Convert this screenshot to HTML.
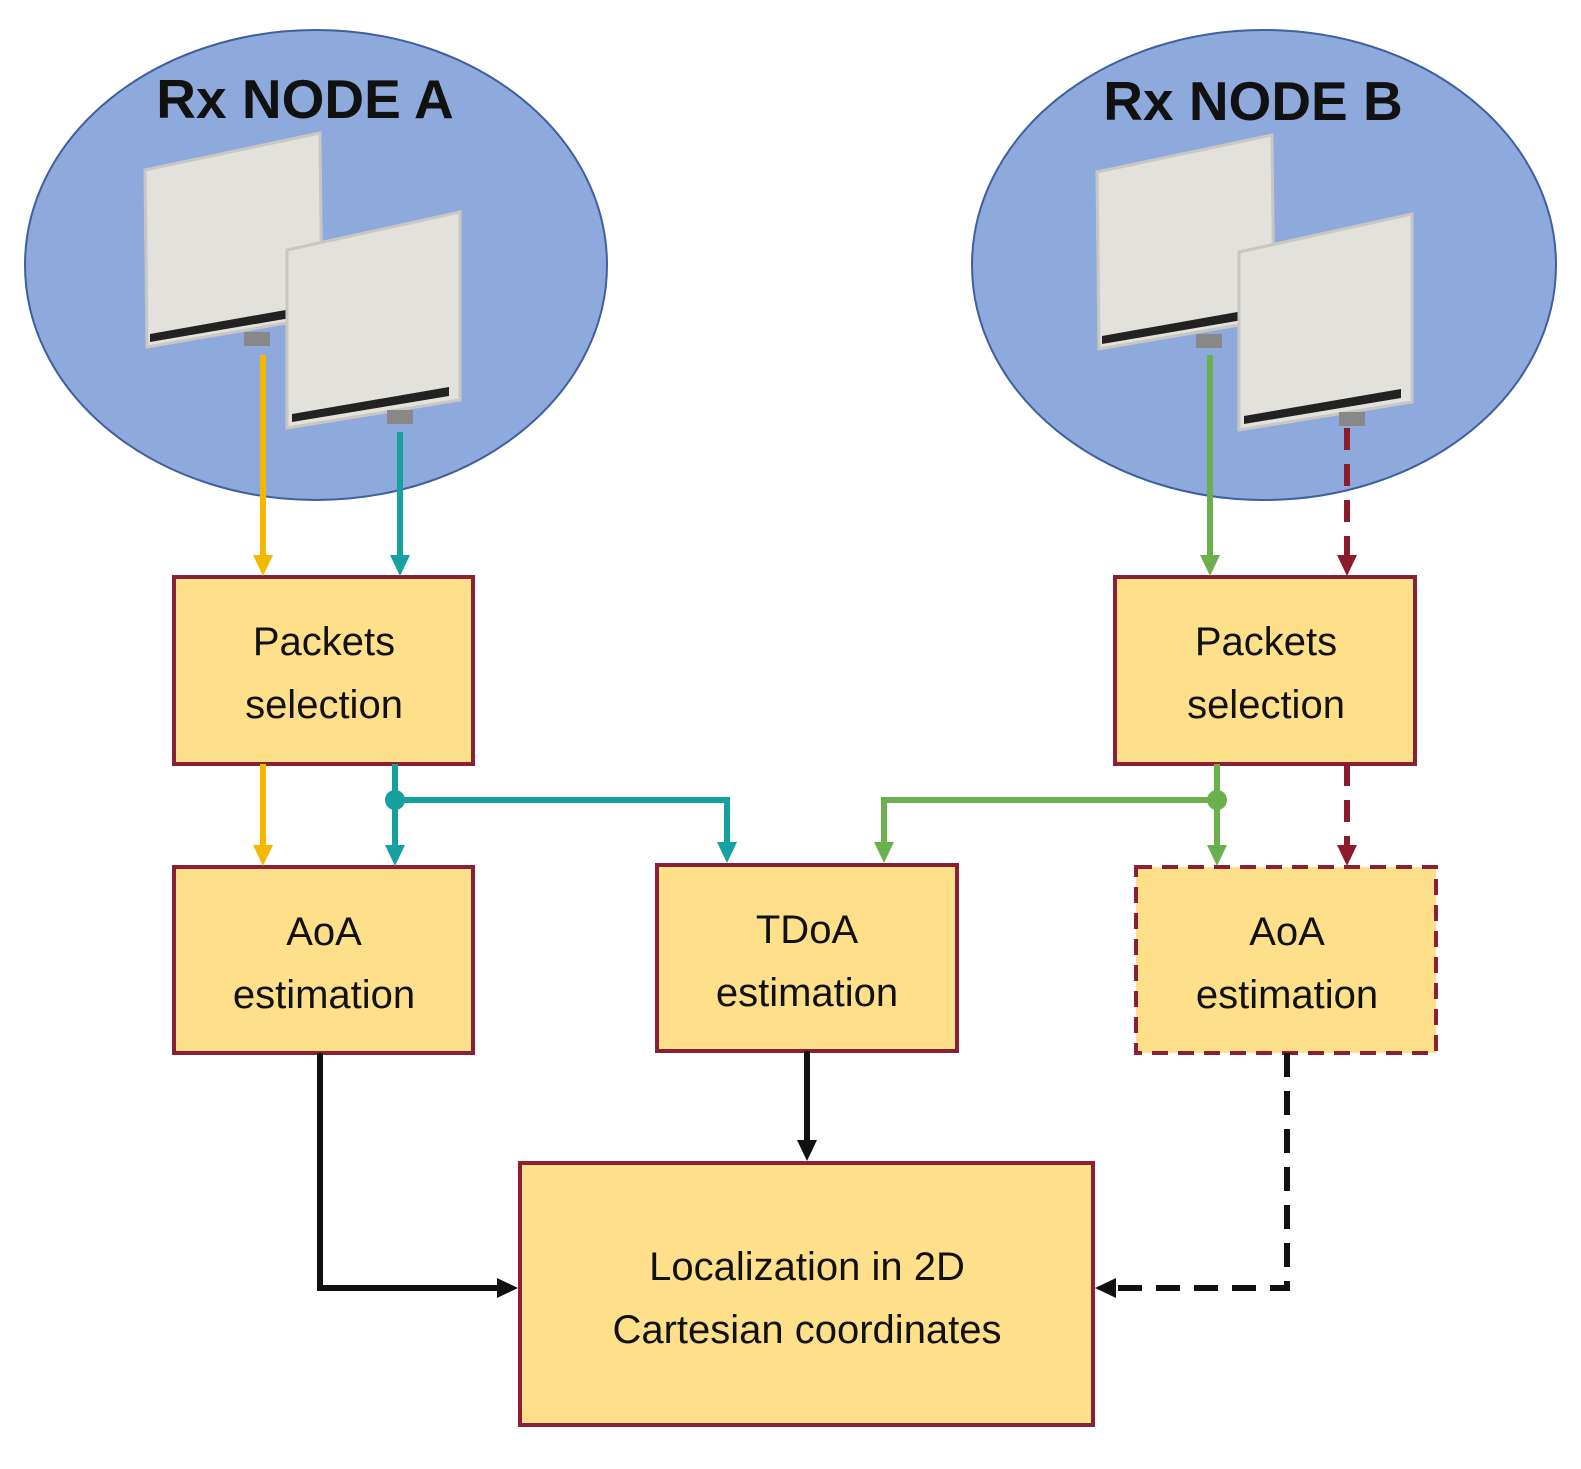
<!DOCTYPE html>
<html><head><meta charset="utf-8"><style>
html,body{margin:0;padding:0;background:#fff;}
svg{display:block;}
text{font-family:"Liberation Sans",sans-serif;}
</style></head><body>
<svg width="1581" height="1469" viewBox="0 0 1581 1469" xmlns="http://www.w3.org/2000/svg">
<ellipse cx="316" cy="265" rx="291" ry="235" fill="#8eaadc" stroke="#3f5f9f" stroke-width="2"/>
<ellipse cx="1264" cy="265" rx="292" ry="235" fill="#8eaadc" stroke="#3f5f9f" stroke-width="2"/>
<text x="305" y="118" font-size="55" font-weight="bold" text-anchor="middle" fill="#111">Rx NODE A</text>
<text x="1253" y="120" font-size="55" font-weight="bold" text-anchor="middle" fill="#111">Rx NODE B</text>
<g id="ant">
<polygon points="145,170 320,133 322,317 147,347" fill="#e2e1dc" stroke="#c8c7c2" stroke-width="3"/>
<polygon points="150,334 308,306 308,315 150,342" fill="#222"/>
<rect x="244" y="332" width="26" height="14" fill="#888"/>
<polygon points="287,250 460,212 460,400 287,428" fill="#e2e1dc" stroke="#c8c7c2" stroke-width="3"/>
<polygon points="292,414 449,387 449,396 292,422" fill="#222"/>
<rect x="387" y="410" width="26" height="14" fill="#888"/>
</g>
<use href="#ant" transform="translate(952,2)"/>
<g fill="#ffe08a" stroke="#8b2035" stroke-width="4">
<rect x="174" y="577" width="299" height="187"/>
<rect x="1115" y="577" width="300" height="187"/>
<rect x="174" y="867" width="299" height="186"/>
<rect x="657" y="865" width="300" height="186"/>
<rect x="1136" y="867" width="300" height="186" stroke-dasharray="16,10"/>
<rect x="520" y="1163" width="573" height="262"/>
</g>
<g font-size="40" text-anchor="middle" fill="#111">
<text x="324" y="655">Packets</text><text x="324" y="718">selection</text>
<text x="1266" y="655">Packets</text><text x="1266" y="718">selection</text>
<text x="324" y="945">AoA</text><text x="324" y="1008">estimation</text>
<text x="807" y="943">TDoA</text><text x="807" y="1006">estimation</text>
<text x="1287" y="945">AoA</text><text x="1287" y="1008">estimation</text>
<text x="807" y="1280">Localization in 2D</text><text x="807" y="1343">Cartesian coordinates</text>
</g>
<g stroke-width="6" fill="none">
<path d="M263 355 V558 M263 764 V848" stroke="#f5b800"/>
<path d="M400 432 V558 M395 764 V848 M395 800 H727 V845" stroke="#16a0a0"/>
<path d="M1210 355 V558 M1217 764 V848 M1217 800 H884 V845" stroke="#6ab04c"/>
<path d="M1347 428 V558 M1347 764 V848" stroke="#8b1a2b" stroke-dasharray="22,14"/>
<path d="M320 1053 V1288 H500 M807 1051 V1143" stroke="#111"/>
<path d="M1287 1053 V1288 H1113" stroke="#111" stroke-dasharray="24,14"/>
</g>
<circle cx="395" cy="800" r="10" fill="#16a0a0"/>
<circle cx="1217" cy="800" r="10" fill="#6ab04c"/>
<g>
<polygon points="253,555 273,555 263,576" fill="#f5b800"/>
<polygon points="253,845 273,845 263,866" fill="#f5b800"/>
<polygon points="390,555 410,555 400,576" fill="#16a0a0"/>
<polygon points="385,845 405,845 395,866" fill="#16a0a0"/>
<polygon points="717,842 737,842 727,863" fill="#16a0a0"/>
<polygon points="1200,555 1220,555 1210,576" fill="#6ab04c"/>
<polygon points="1207,845 1227,845 1217,866" fill="#6ab04c"/>
<polygon points="874,842 894,842 884,863" fill="#6ab04c"/>
<polygon points="1337,555 1357,555 1347,576" fill="#8b1a2b"/>
<polygon points="1337,845 1357,845 1347,866" fill="#8b1a2b"/>
<polygon points="797,1140 817,1140 807,1161" fill="#111"/>
<polygon points="497,1278 497,1298 518,1288" fill="#111"/>
<polygon points="1116,1278 1116,1298 1095,1288" fill="#111"/>
</g>
</svg>
</body></html>
